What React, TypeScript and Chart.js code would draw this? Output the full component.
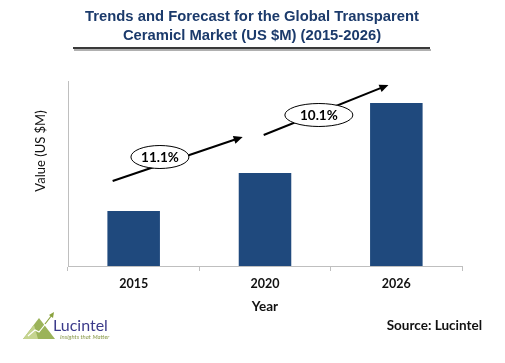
import React, { useEffect, useRef } from "react";
import { Chart, registerables } from "chart.js";

Chart.register(...registerables);

const titleLines = [
  "Trends and Forecast for the Global Transparent",
  "Ceramicl Market (US $M) (2015-2026)",
];
const years = ["2015", "2020", "2026"];
const values = [55, 93, 163];
const cagrLabels = ["11.1%", "10.1%"];
const yAxisTitle = "Value (US $M)";
const xAxisTitle = "Year";
const sourceText = "Source: Lucintel";
const logoName = "Lucintel";
const logoTagline = "Insights that Matter";
const yMax = 185;

// arrow annotations in scale units (category index, value)
const arrows = [
  { x0: -0.16, y0: 85, x1: 0.83, y1: 129, cx: 0.2, cy: 109, rx: 29, ry: 11.5 },
  { x0: 0.99, y0: 131, x1: 1.94, y1: 181, cx: 1.41, cy: 151, rx: 34, ry: 11.5 },
];

const FONT = "Lato, 'Open Sans', 'DejaVu Sans', sans-serif";

const overlay = {
  id: "overlay",
  afterDraw(chart: any) {
    const ctx = chart.ctx as CanvasRenderingContext2D;
    const xs = chart.scales.x;
    const ys = chart.scales.y;
    const ca = chart.chartArea;
    ctx.save();

    // Title
    ctx.fillStyle = "#1B3A6B";
    ctx.font = "bold 14.8px 'Liberation Sans', Arial, sans-serif";
    ctx.textAlign = "center";
    ctx.textBaseline = "middle";
    ctx.fillText(titleLines[0], 252, 17);
    ctx.fillText(titleLines[1], 252, 36);
    // underline
    ctx.fillStyle = "#b0b0b0";
    ctx.fillRect(74, 49, 357, 2);
    ctx.fillStyle = "#3a3a3a";
    ctx.fillRect(73, 47, 357, 2);

    // Y axis title
    ctx.save();
    ctx.translate(41, 151);
    ctx.rotate(-Math.PI / 2);
    ctx.fillStyle = "#111";
    ctx.font = `13px ${FONT}`;
    ctx.fillText(yAxisTitle, 0, 0);
    ctx.restore();

    // X axis title
    ctx.fillStyle = "#111";
    ctx.font = `bold 13.5px ${FONT}`;
    ctx.fillText(xAxisTitle, (ca.left + ca.right) / 2, 307);

    // Source
    ctx.textAlign = "right";
    ctx.font = `bold 13.5px ${FONT}`;
    ctx.fillText(sourceText, 482, 326);

    // Arrows + ellipses
    arrows.forEach((a, i) => {
      const x0 = xs.getPixelForValue(a.x0);
      const y0 = ys.getPixelForValue(a.y0);
      const x1 = xs.getPixelForValue(a.x1);
      const y1 = ys.getPixelForValue(a.y1);
      const ang = Math.atan2(y1 - y0, x1 - x0);
      const head = 9;
      ctx.strokeStyle = "#000";
      ctx.lineWidth = 2;
      ctx.beginPath();
      ctx.moveTo(x0, y0);
      ctx.lineTo(x1 - Math.cos(ang) * head * 0.8, y1 - Math.sin(ang) * head * 0.8);
      ctx.stroke();
      ctx.fillStyle = "#000";
      ctx.beginPath();
      ctx.moveTo(x1, y1);
      ctx.lineTo(x1 - Math.cos(ang) * head + Math.sin(ang) * 4, y1 - Math.sin(ang) * head - Math.cos(ang) * 4);
      ctx.lineTo(x1 - Math.cos(ang) * head - Math.sin(ang) * 4, y1 - Math.sin(ang) * head + Math.cos(ang) * 4);
      ctx.closePath();
      ctx.fill();

      const cx = xs.getPixelForValue(a.cx);
      const cy = ys.getPixelForValue(a.cy);
      ctx.beginPath();
      ctx.ellipse(cx, cy, a.rx, a.ry, 0, 0, Math.PI * 2);
      ctx.fillStyle = "#fff";
      ctx.fill();
      ctx.lineWidth = 1;
      ctx.strokeStyle = "#000";
      ctx.stroke();
      ctx.fillStyle = "#000";
      ctx.textAlign = "center";
      ctx.font = `bold 13.5px ${FONT}`;
      ctx.fillText(cagrLabels[i], cx, cy + 1);
    });

    // Logo
    ctx.fillStyle = "#9bb35a";
    ctx.beginPath();
    ctx.moveTo(23, 339);
    ctx.lineTo(39, 318);
    ctx.lineTo(55, 339);
    ctx.closePath();
    ctx.fill();
    ctx.fillStyle = "#c5d48f";
    ctx.beginPath();
    ctx.moveTo(23, 339);
    ctx.lineTo(34, 325);
    ctx.lineTo(38, 339);
    ctx.closePath();
    ctx.fill();
    ctx.strokeStyle = "#ffffff";
    ctx.lineWidth = 1.2;
    ctx.beginPath();
    ctx.moveTo(28, 336);
    ctx.lineTo(35, 330);
    ctx.lineTo(39, 332);
    ctx.lineTo(47, 322);
    ctx.stroke();
    ctx.strokeStyle = "#8aa23e";
    ctx.beginPath();
    ctx.moveTo(45, 324);
    ctx.lineTo(52, 315);
    ctx.stroke();
    ctx.fillStyle = "#8aa23e";
    ctx.beginPath();
    ctx.moveTo(54, 312);
    ctx.lineTo(49, 315);
    ctx.lineTo(53, 318);
    ctx.closePath();
    ctx.fill();

    ctx.textAlign = "left";
    ctx.fillStyle = "#3b3a8a";
    ctx.font = `16px ${FONT}`;
    ctx.fillText(logoName, 53, 326);
    ctx.fillStyle = "#8a9a4a";
    ctx.font = `italic 6px ${FONT}`;
    ctx.fillText(logoTagline, 60, 337);

    ctx.restore();
  },
};

export default function App() {
  const ref = useRef<HTMLCanvasElement | null>(null);
  useEffect(() => {
    if (!ref.current) return;
    const chart = new Chart(ref.current, {
      type: "bar",
      data: {
        labels: years,
        datasets: [
          {
            data: values,
            backgroundColor: "#1F497D",
            borderWidth: 0,
            barPercentage: 0.4,
            categoryPercentage: 1,
          },
        ],
      },
      options: {
        animation: false,
        responsive: false,
        maintainAspectRatio: false,
        layout: { padding: { left: 68, right: 43, top: 81, bottom: 0 } },
        plugins: {
          legend: { display: false },
          title: { display: false },
          tooltip: { enabled: false },
        },
        scales: {
          x: {
            afterFit: (s: any) => {
              s.height = 97;
            },
            grid: {
              display: true,
              drawOnChartArea: false,
              offset: true,
              tickLength: 5,
              color: "#bfbfbf",
            },
            border: { display: true, color: "#bfbfbf", width: 1 },
            ticks: {
              color: "#111",
              padding: 5,
              font: { family: FONT, size: 12.5, weight: "bold" },
            },
          },
          y: {
            min: 0,
            max: yMax,
            afterFit: (s: any) => {
              s.width = 0;
            },
            grid: { display: false },
            border: { display: true, color: "#bfbfbf", width: 1 },
            ticks: { display: false },
          },
        },
      },
      plugins: [overlay],
    } as any);
    return () => chart.destroy();
  }, []);
  return (
    <div style={{ position: "absolute", left: 0, top: 0, width: 505, height: 363, background: "#fff" }}>
      <canvas ref={ref} width={505} height={363} style={{ width: 505, height: 363 }} />
    </div>
  );
}
